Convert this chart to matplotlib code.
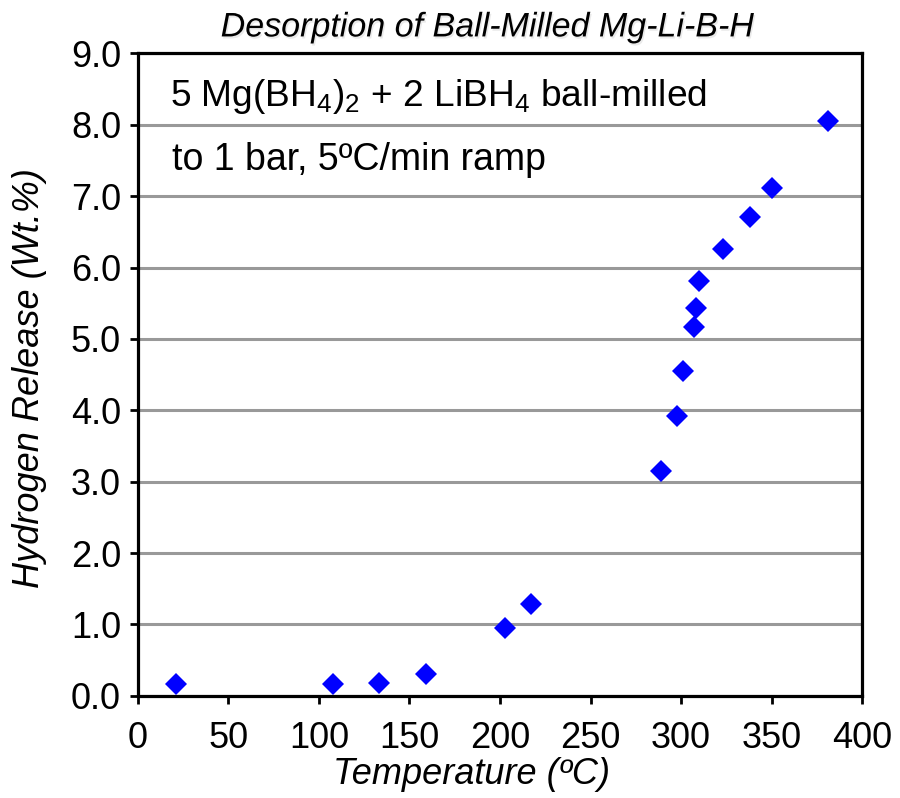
import matplotlib
matplotlib.use("Agg")
import matplotlib.pyplot as plt
import matplotlib.patheffects as pe

# desorption run, temperature (C) vs released hydrogen (wt.%)
temperature = [21, 108, 133, 159, 203, 217, 289, 298, 301, 307, 308, 310, 323, 338, 350, 381]
h2_release = [0.17, 0.17, 0.18, 0.30, 0.95, 1.29, 3.15, 3.92, 4.55, 5.17, 5.44, 5.81, 6.26, 6.71, 7.12, 8.06]

x_ticks = [0, 50, 100, 150, 200, 250, 300, 350, 400]
y_ticks = [0.0, 1.0, 2.0, 3.0, 4.0, 5.0, 6.0, 7.0, 8.0, 9.0]

plt.rcParams['font.family'] = ['Liberation Sans', 'DejaVu Sans']
plt.rcParams['mathtext.fontset'] = 'custom'
plt.rcParams['mathtext.rm'] = 'Liberation Sans'
plt.rcParams['mathtext.it'] = 'Liberation Sans:italic'

fig = plt.figure(figsize=(9, 7.98), dpi=100)
ax = fig.add_axes([0.153, 0.128, 0.805, 0.805])

ax.plot(temperature, h2_release, linestyle='none', marker='D', markersize=11.5,
        color='#0000ff', markeredgewidth=0, zorder=3)

ax.set_xlim(0, 400)
ax.set_ylim(0, 9)
ax.set_xticks(x_ticks)
ax.set_yticks(y_ticks)
ax.set_yticklabels([f'{v:.1f}' for v in y_ticks])
ax.tick_params(labelsize=26, width=2, length=6, direction='out', color='black')
ax.tick_params(axis='x', pad=12)
ax.tick_params(axis='y', pad=6)
ax.yaxis.grid(True, color='#999999', linewidth=2.2)
ax.set_axisbelow(True)
for s in ax.spines.values():
    s.set_linewidth(2.3)

ax.set_xlabel('Temperature (ºC)', fontsize=26, style='italic', va='center')
ax.xaxis.set_label_coords(0.461, -0.123)
ax.set_ylabel('Hydrogen Release (Wt.%)', fontsize=26, style='italic', va='center')
ax.yaxis.set_label_coords(-0.149, 0.495)

# title with a light drop shadow
title = fig.text(0.541, 0.965, 'Desorption of Ball-Milled Mg-Li-B-H',
                 ha='center', va='center', fontsize=24.5, style='italic')
title.set_path_effects([pe.SimplePatchShadow(offset=(1, -1.5), shadow_rgbFace='#999999', alpha=0.2),
                        pe.Normal()])

ax.text(0.044, 0.9175, r'5 Mg(BH$_4$)$_2$ + 2 LiBH$_4$ ball-milled',
        transform=ax.transAxes, fontsize=26.7, va='baseline', ha='left')
ax.text(0.048, 0.819, 'to 1 bar, 5ºC/min ramp',
        transform=ax.transAxes, fontsize=27, va='baseline', ha='left')

fig.savefig('out.png', dpi=100)
